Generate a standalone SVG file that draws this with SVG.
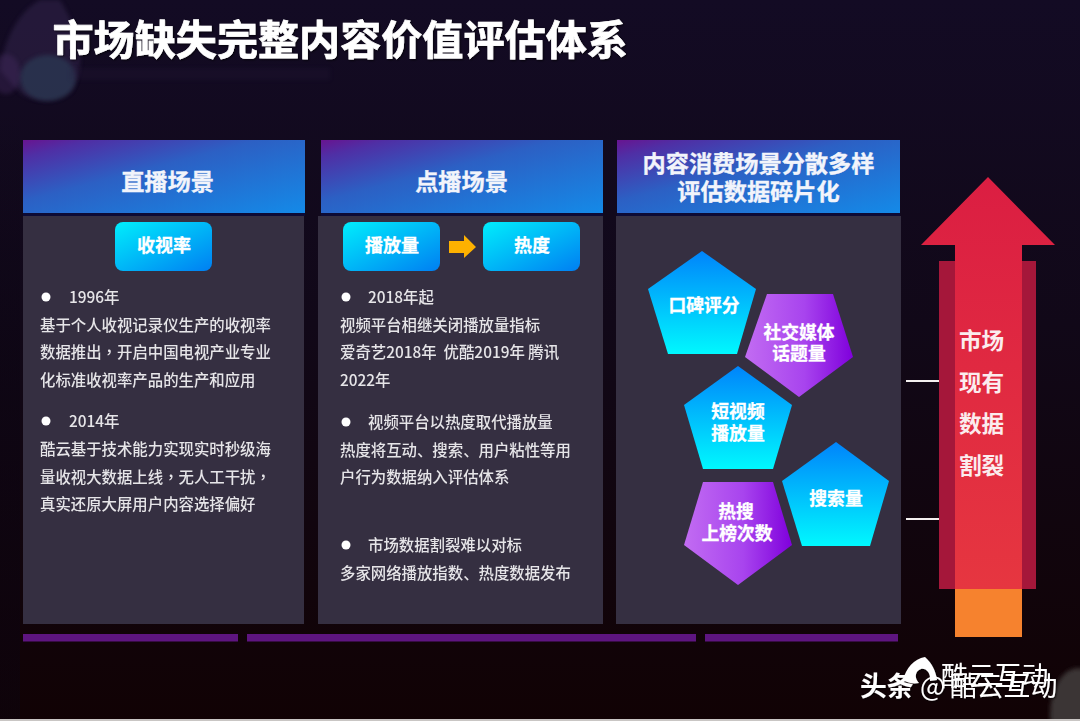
<svg xmlns="http://www.w3.org/2000/svg" width="1080" height="721" viewBox="0 0 1080 721">
<style>
text{font-family:"Noto Sans CJK SC","Noto Sans",sans-serif;fill:#fff}
.title{font-size:41.1px;font-weight:700;stroke:#fff;stroke-width:.7px}
.head{font-size:23.2px;font-weight:700;text-anchor:middle;fill:#f2f4fb;stroke:#f2f4fb;stroke-width:.35px}
.btn{font-size:18px;font-weight:700;text-anchor:middle;stroke:#fff;stroke-width:.3px}
.pt{font-size:17.8px;font-weight:700;text-anchor:middle;stroke:#fff;stroke-width:.3px}
.side{font-size:22.6px;font-weight:700;text-anchor:middle;fill:#fbecee}
.body{font-size:15.4px;fill:#e6e5e8;font-weight:500}
.tc{font-family:"Noto Sans CJK TC",sans-serif}
.panel{fill:#352f41}
.hdr{fill:url(#gh)}
.hline{fill:#0d0b35}
.strip{fill:#5e1580}
.bullet{fill:#fff}
.wm{font-size:26.8px;font-weight:400}
.soft{filter:url(#soft)}
</style>
<defs>
<linearGradient id="bg" x1="0" y1="0" x2="0" y2="1"><stop offset="0" stop-color="#130b24"/><stop offset=".45" stop-color="#110818"/><stop offset="1" stop-color="#110204"/></linearGradient>
<linearGradient id="gh" x1="0" y1="0" x2="1" y2="1"><stop offset="0" stop-color="#681490"/><stop offset=".12" stop-color="#4f2fa5"/><stop offset=".42" stop-color="#2c60c4"/><stop offset="1" stop-color="#148ae8"/></linearGradient>
<linearGradient id="gb" x1="0" y1="0" x2="1" y2="1"><stop offset="0" stop-color="#00eefc"/><stop offset="1" stop-color="#007ff2"/></linearGradient>
<linearGradient id="gp" x1="0" y1="0" x2="0" y2="1"><stop offset="0" stop-color="#0084fb"/><stop offset="1" stop-color="#00f8fe"/></linearGradient>
<linearGradient id="gv" x1="0" y1="0" x2="1" y2="0"><stop offset="0" stop-color="#c26cf2"/><stop offset=".55" stop-color="#a844ee"/><stop offset="1" stop-color="#7f00dc"/></linearGradient>
<linearGradient id="gr" x1="0" y1="0" x2="0" y2="1"><stop offset="0" stop-color="#db1e42"/><stop offset="1" stop-color="#e63640"/></linearGradient>
<linearGradient id="edge" x1="0" y1="0" x2="0" y2="1"><stop offset=".15" stop-color="#0a0412" stop-opacity="0"/><stop offset=".5" stop-color="#0a0412" stop-opacity=".4"/></linearGradient>
<filter id="soft" x="-5%" y="-5%" width="110%" height="110%"><feGaussianBlur stdDeviation="0.35"/></filter>
<filter id="blob" x="-30%" y="-30%" width="160%" height="160%"><feGaussianBlur stdDeviation="2"/></filter>
<filter id="shadow" x="-5%" y="-20%" width="110%" height="140%"><feDropShadow dx="1" dy="1" stdDeviation="1" flood-color="#000" flood-opacity=".7"/></filter>
</defs>

<rect width="1080" height="721" fill="url(#bg)"/>
<rect width="20" height="721" fill="url(#edge)"/>
<g id="decor">
<path d="M0 70C4 40 18 12 40 0H60C78 30 88 60 72 90C60 102 38 104 22 94C14 86 6 78 0 70Z" fill="#35284f" opacity=".5" filter="url(#blob)"/>
<ellipse cx="48" cy="78" rx="28" ry="23" fill="#2f4a60" opacity=".5" filter="url(#blob)"/>
<ellipse cx="6" cy="74" rx="14" ry="20" fill="#4a2f66" opacity=".35" filter="url(#blob)"/>
<rect x="70" y="68" width="260" height="12" fill="#2a1e40" opacity=".22" filter="url(#blob)"/>
<ellipse cx="1078" cy="714" rx="28" ry="46" fill="#3a3534" filter="url(#blob)"/>
<rect y="719" width="1080" height="2" fill="#c9c6c4"/>
</g>

<text class="title" x="52.500" y="54.500" filter="url(#shadow)">市场缺失完整内容价值评估体系</text>

<g id="col-live">
<rect class="panel" x="23" y="216" width="281" height="408"/>
<rect class="hline" x="23" y="213" width="282" height="3"/>
<rect class="hdr" x="23" y="140" width="282" height="73"/>
<text class="head" x="167.500" y="190">直播场景</text>
<g class="soft">
<circle class="bullet" cx="46" cy="297" r="4.500"/>
<text class="body" x="69" y="303">1996年</text>
<text class="body" x="40" y="331">基于个人收视记录仪生产的收视率</text>
<text class="body" x="40" y="358">数据推出<tspan class="tc">，</tspan>开启中国电视产业专业</text>
<text class="body" x="40" y="386">化标准收视率产品的生产和应用</text>
<circle class="bullet" cx="46" cy="421" r="4.500"/>
<text class="body" x="69" y="427">2014年</text>
<text class="body" x="40" y="455">酷云基于技术能力实现实时秒级海</text>
<text class="body" x="40" y="483">量收视大数据上线<tspan class="tc">，</tspan>无人工干扰<tspan class="tc">，</tspan></text>
<text class="body" x="40" y="510">真实还原大屏用户内容选择偏好</text>
</g>
</g>

<g id="btn-rating">
<rect x="115" y="222" width="97" height="49" rx="8" fill="url(#gb)"/>
<text class="btn" x="164" y="252">收视率</text>
</g>

<g id="col-vod">
<rect class="panel" x="318" y="216" width="285" height="408"/>
<rect class="hline" x="321" y="213" width="282" height="3"/>
<rect class="hdr" x="321" y="140" width="282" height="73"/>
<text class="head" x="461.500" y="190">点播场景</text>
<g class="soft">
<circle class="bullet" cx="346" cy="297" r="4.500"/>
<text class="body" x="368" y="303">2018年起</text>
<text class="body" x="340" y="331">视频平台相继关闭播放量指标</text>
<text class="body" x="340" y="358" xml:space="preserve">爱奇艺2018年  优酷2019年 腾讯</text>
<text class="body" x="340" y="386">2022年</text>
<circle class="bullet" cx="346" cy="422" r="4.500"/>
<text class="body" x="368" y="428">视频平台以热度取代播放量</text>
<text class="body" x="340" y="456">热度将互动、搜索、用户粘性等用</text>
<text class="body" x="340" y="483">户行为数据纳入评估体系</text>
<circle class="bullet" cx="346" cy="545" r="4.500"/>
<text class="body" x="368" y="551">市场数据割裂难以对标</text>
<text class="body" x="340" y="579">多家网络播放指数、热度数据发布</text>
</g>
</g>

<g id="btn-plays">
<rect x="343" y="222" width="97" height="49" rx="8" fill="url(#gb)"/>
<text class="btn" x="392" y="252">播放量</text>
</g>
<g id="btn-heat">
<rect x="483" y="222" width="97" height="49" rx="8" fill="url(#gb)"/>
<text class="btn" x="532" y="252">热度</text>
</g>

<g id="col-frag">
<rect class="panel" x="616" y="216" width="285" height="408"/>
<rect class="hline" x="617" y="213" width="283" height="3"/>
<rect class="hdr" x="617" y="140" width="283" height="73"/>
<text class="head" x="758.500" y="172">内容消费场景分散多样</text>
<text class="head" x="758.500" y="200">评估数据碎片化</text>
</g>

<g id="pent-reviews">
<polygon points="702,251 756,289 737,354 668,354 648,289" fill="url(#gp)"/>
<text class="pt" x="704" y="312">口碑评分</text>
</g>
<g id="pent-social">
<polygon points="767,294 833,294 853,357 799,397 745,357" fill="url(#gv)"/>
<text class="pt" x="799" y="339">社交媒体</text>
<text class="pt" x="799" y="360">话题量</text>
</g>
<g id="pent-short">
<polygon points="738,366 792,405 773,469 703,469 684,405" fill="url(#gp)"/>
<text class="pt" x="738" y="418">短视频</text>
<text class="pt" x="738" y="440">播放量</text>
</g>
<g id="pent-search">
<polygon points="836,442 889,481 870,546 802,546 782,481" fill="url(#gp)"/>
<text class="pt" x="836" y="505">搜索量</text>
</g>
<g id="pent-hot">
<polygon points="703,482 773,482 792,545 738,585 684,545" fill="url(#gv)"/>
<text class="pt" x="736" y="518">热搜</text>
<text class="pt" x="737" y="540">上榜次数</text>
</g>

<g id="bars">
<rect class="strip" x="23" y="634" width="215" height="7.500"/>
<rect class="strip" x="247" y="634" width="449" height="7.500"/>
<rect class="strip" x="705" y="634" width="193" height="7.500"/>
</g>

<g id="connectors">
<polygon points="449,241 464,241 464,235 476,247 464,258 464,253 449,253" fill="#fdb100"/>
<rect x="906" y="380" width="36" height="2" fill="#f4f0f0"/>
<rect x="906" y="518" width="36" height="2" fill="#f4f0f0"/>
</g>

<g id="market-arrow">
<rect x="939" y="261" width="97" height="328" fill="#a5173a"/>
<rect x="955" y="589" width="67" height="48" fill="#f6822e"/>
<polygon points="988,177 1055,245 1022,245 1022,589 955,589 955,245 921,245" fill="url(#gr)"/>
<text class="side" x="981.500" y="349">市场</text>
<text class="side" x="981.500" y="391">现有</text>
<text class="side" x="981.500" y="432">数据</text>
<text class="side" x="981.500" y="474">割裂</text>
</g>

<g id="watermark" filter="url(#shadow)">
<path d="M903 680C906 668 914 659 925 657C932 663 936 672 937 680L930 681C931 673 926 668 921 669C915 671 914 678 919 683C913 684 908 683 903 680Z" fill="#fff"/>
<text class="wm" x="941" y="686">酷云互动</text>
<text class="wm" x="860" y="696" style="font-weight:700">头条</text>
<text class="wm" x="920" y="696" textLength="29">@</text>
<text class="wm" x="950" y="696">酷云互动</text>
</g>
</svg>
